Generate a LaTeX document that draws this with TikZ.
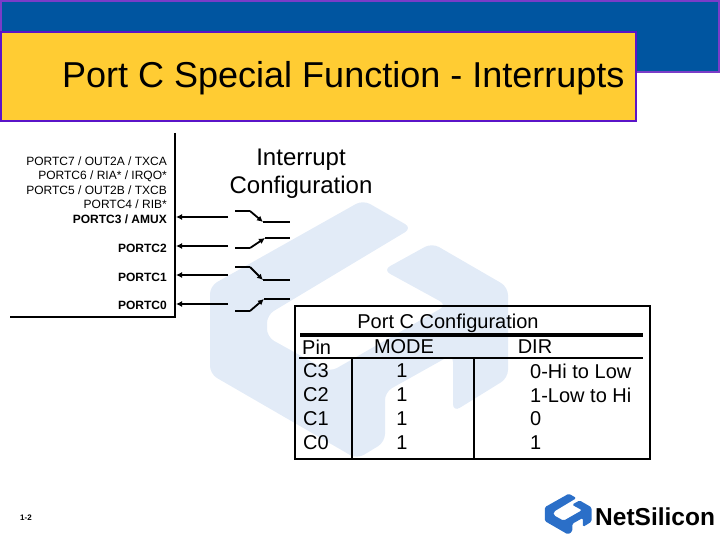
\documentclass[tikz,border=0pt]{standalone}
\usepackage{fontspec}
\setmainfont{Liberation Sans}
\usetikzlibrary{positioning, arrows.meta}
\definecolor{bandblue}{HTML}{0055A0}
\definecolor{bandedge}{HTML}{7A3CC8}
\definecolor{titlefill}{HTML}{FFCC33}
\definecolor{titleedge}{HTML}{5A14C8}
\definecolor{markpale}{HTML}{E2EBF7}
\definecolor{markblue}{HTML}{2B6FC8}
\tikzset{
    pinlabel/.style={anchor=east, inner sep=0pt, font=\fontsize{12}{14}\selectfont},
    pinbold/.style={pinlabel, font=\fontsize{12}{14}\selectfont\bfseries},
    cell/.style={anchor=west, inner sep=0pt, font=\fontsize{20}{24}\selectfont},
    midcell/.style={anchor=center, inner sep=0pt, font=\fontsize{20}{24}\selectfont},
    wire/.style={line width=1.8pt},
    pinarrow/.style={wire, -{Latex[length=6pt,width=6pt]}},
    rule/.style={line width=1.6pt}
}
\newcommand{\markshape}{(210,286) -- (363,200) -- (412,228) -- (267,315) -- (267,337) -- (330,372)
    -- (447,305) -- (383,270) -- (432,243) -- (508,287) -- (508,378) -- (453,412) -- (453,354)
    -- (385,392) -- (385,442) -- (357,459) -- (210,374) -- cycle}
\begin{document}
\begin{tikzpicture}[x=1pt, y=-1pt]
    \useasboundingbox (0,0) rectangle (720,540);
    % Watermark
    \fill[markpale, rounded corners=8pt] \markshape;

    % Title
    \draw[bandedge, fill=bandblue, line width=2pt] (1,1) rectangle (719,72);
    \draw[titleedge, fill=titlefill, line width=2.4pt] (0.5,32) rectangle (636,121);
    \node[anchor=west, inner sep=0pt, font=\fontsize{36}{42}\selectfont] (title) at (62,78) {Port C Special Function - Interrupts};

    % Chip
    \coordinate (chiptop) at (175,133);
    \coordinate (chipcorner) at (175,317);
    \coordinate (chipend) at (10,317);
    \draw[rule] (chiptop) -- (chipcorner) -- (chipend);

    % Pin labels
    \node[pinlabel] (pc7) at (167,161) {PORTC7 / OUT2A / TXCA};
    \node[pinlabel] (pc6) at (167,176) {PORTC6 / RIA* / IRQO*};
    \node[pinlabel] (pc5) at (167,190) {PORTC5 / OUT2B / TXCB};
    \node[pinlabel] (pc4) at (167,204) {PORTC4 / RIB*};
    \node[pinbold] (pc3) at (167,219) {PORTC3 / AMUX};
    \node[pinbold] (pc2) at (167,248) {PORTC2};
    \node[pinbold] (pc1) at (167,277) {PORTC1};
    \node[pinbold] (pc0) at (167,305) {PORTC0};

    \node[align=center, inner sep=0pt, font=\fontsize{24}{28}\selectfont] (config) at (301,174) {Interrupt\\Configuration};

    % Pin arrows
    \foreach \name/\ypos in {a/217, b/246, c/275, d/304} {
        \coordinate (from\name) at (228,\ypos);
        \coordinate (to\name) at (176,\ypos);
        \draw[pinarrow] (from\name) -- (to\name);
    }

    % Switches
    \foreach \name/\yin/\yout/\xtip in {a/211/222/263, b/248/238/265, c/267/280/263, d/311/299/264} {
        \coordinate (in\name) at (235,\yin);
        \coordinate (knee\name) at (250,\yin);
        \coordinate (tip\name) at (\xtip,\yout);
        \coordinate (out\name) at (290,\yout);
        \draw[wire] (in\name) -- (knee\name);
        \draw[pinarrow] (knee\name) -- (tip\name);
        \draw[wire] (tip\name) -- (out\name);
    }

    % Table
    \coordinate (tabnw) at (295,306);
    \coordinate (tabse) at (650,459);
    \draw[rule] (tabnw) rectangle (tabse);
    \coordinate (thickl) at (300,335);
    \coordinate (thickr) at (643,335);
    \coordinate (thinl) at (299,358);
    \coordinate (thinr) at (643,358);
    \draw[line width=3.6pt] (thickl) -- (thickr);
    \draw[rule] (thinl) -- (thinr);
    \coordinate (colat) at (352,358);
    \coordinate (colab) at (352,459);
    \coordinate (colbt) at (474,358);
    \coordinate (colbb) at (474,459);
    \draw[rule] (colat) -- (colab);
    \draw[rule] (colbt) -- (colbb);

    \node[midcell] (tabtitle) at (448,323) {Port C Configuration};
    \node[cell] (hpin) at (302,347) {Pin};
    \node[midcell] (hmode) at (404,347) {MODE};
    \node[midcell] (hdir) at (535,347) {DIR};
    \foreach \name/\pin/\dirtext/\ypos in {r3/C3/0-Hi to Low/371, r2/C2/1-Low to Hi/395, r1/C1/0/419, r0/C0/1/443} {
        \node[cell] (pin\name) at (303,\ypos) {\pin};
        \node[midcell] (mode\name) at (402,\ypos) {1};
        \node[cell] (dir\name) at (530,\ypos) {\dirtext};
    }

    % Page number and logo
    \node[inner sep=0pt, font=\fontsize{8}{10}\selectfont\bfseries] (page) at (26,518) {1-2};
    \fill[markblue, rounded corners=1.5pt, shift={(511.8,462.3)}, scale=0.157] \markshape;
    \node[anchor=west, inner sep=0pt, font=\fontsize{24.5}{28}\selectfont\bfseries] (brand) at (595,517) {NetSilicon};
\end{tikzpicture}
\end{document}
